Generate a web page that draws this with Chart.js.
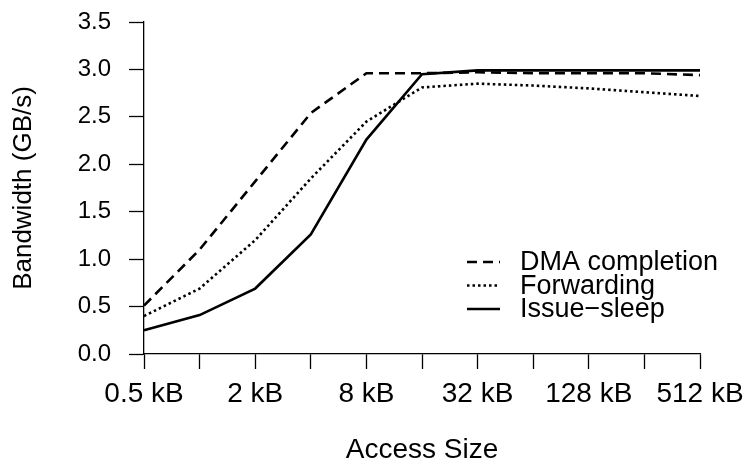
<!DOCTYPE html>
<html>
<head>
<meta charset="utf-8">
<script src="https://cdn.jsdelivr.net/npm/chart.js@4.4.1/dist/chart.umd.min.js"></script>
<style>
  html, body { margin: 0; padding: 0; background: #fff; }
  #wrap { width: 750px; height: 467px; }
</style>
</head>
<body>
<div id="wrap"><canvas id="myChart" width="750" height="467"></canvas></div>
<script>
'use strict';

let sizes = ['0.5 kB', '1 kB', '2 kB', '4 kB', '8 kB', '16 kB', '32 kB', '64 kB', '128 kB', '256 kB', '512 kB'];
let dmaCompletion = [0.51, 1.10, 1.82, 2.54, 2.96, 2.96, 2.97, 2.96, 2.96, 2.96, 2.94];
let forwarding = [0.40, 0.69, 1.20, 1.85, 2.45, 2.81, 2.85, 2.83, 2.80, 2.76, 2.72];
let issueSleep = [0.25, 0.41, 0.69, 1.26, 2.26, 2.95, 2.99, 2.99, 2.99, 2.99, 2.99];
let yTicks = [0, 0.5, 1, 1.5, 2, 2.5, 3, 3.5];

const fontFamily = '"Liberation Sans", Arial, sans-serif';

// legend sits inside the plot, lower right
const insideLegend = {
  id: 'insideLegend',
  afterDatasetsDraw(chart) {
    let ctx = chart.ctx;
    let area = chart.chartArea;
    let x0 = area.left + 323;
    let y0 = area.top + 240;
    ctx.save();
    ctx.font = '27px ' + fontFamily;
    ctx.fillStyle = '#000';
    ctx.textBaseline = 'middle';
    chart.data.datasets.forEach(function (ds, i) {
      let y = y0 + i * 23.5;
      ctx.strokeStyle = '#000';
      ctx.lineWidth = ds.borderWidth;
      ctx.setLineDash(ds.borderDash || []);
      ctx.beginPath();
      ctx.moveTo(x0, y);
      ctx.lineTo(x0 + 33, y);
      ctx.stroke();
      ctx.setLineDash([]);
      ctx.fillText(ds.label, x0 + 53, y + 1);
    });
    ctx.restore();
  }
};

let ctx = document.getElementById('myChart').getContext('2d');
let myChart = new Chart(ctx, {
  type: 'line',
  data: {
    labels: sizes,
    datasets: [
      {
        label: 'DMA completion',
        data: dmaCompletion,
        borderColor: '#000',
        borderWidth: 2.6,
        borderDash: [10, 6],
        pointRadius: 0,
        tension: 0
      },
      {
        label: 'Forwarding',
        data: forwarding,
        borderColor: '#000',
        borderWidth: 2.6,
        borderDash: [2.5, 3],
        pointRadius: 0,
        tension: 0
      },
      {
        label: 'Issue\u2212sleep',
        data: issueSleep,
        borderColor: '#000',
        borderWidth: 2.6,
        pointRadius: 0,
        tension: 0
      }
    ]
  },
  options: {
    responsive: false,
    animation: false,
    events: [],
    layout: { padding: { top: 22, right: 50, left: 0, bottom: 0 } },
    plugins: {
      legend: { display: false },
      tooltip: { enabled: false }
    },
    scales: {
      x: {
        type: 'category',
        offset: false,
        grid: { drawOnChartArea: false, drawTicks: true, tickLength: 15, color: '#000', tickWidth: 1.3 },
        border: { display: true, color: '#000', width: 1.3 },
        ticks: {
          autoSkip: false,
          maxRotation: 0,
          padding: 8,
          color: '#000',
          font: { family: fontFamily, size: 28 },
          callback: function (v, i) { return i % 2 === 0 ? sizes[i] : ''; }
        },
        title: {
          display: true,
          text: 'Access Size',
          color: '#000',
          font: { family: fontFamily, size: 28 },
          padding: { top: 0, bottom: 0 }
        },
        afterFit: function (scale) {
          scale.height = 113;
          scale.paddingLeft = 0;
          scale.paddingRight = 0;
        }
      },
      y: {
        min: 0,
        max: 3.5,
        afterBuildTicks: function (scale) {
          scale.ticks = yTicks.map(function (v) { return { value: v }; });
        },
        grid: { drawOnChartArea: false, drawTicks: true, tickLength: 15, color: '#000', tickWidth: 1.3 },
        border: { display: true, color: '#000', width: 1.3 },
        ticks: {
          padding: 18,
          color: '#000',
          font: { family: fontFamily, size: 24 },
          callback: function (v) { return Number(v).toFixed(1); }
        },
        title: {
          display: true,
          text: 'Bandwidth (GB/s)',
          color: '#000',
          font: { family: fontFamily, size: 26 },
          padding: { top: 8, bottom: 0 }
        },
        afterFit: function (scale) {
          scale.width = 144;
          scale.paddingTop = 0;
          scale.paddingBottom = 0;
        }
      }
    }
  },
  plugins: [insideLegend]
});
</script>
</body>
</html>
